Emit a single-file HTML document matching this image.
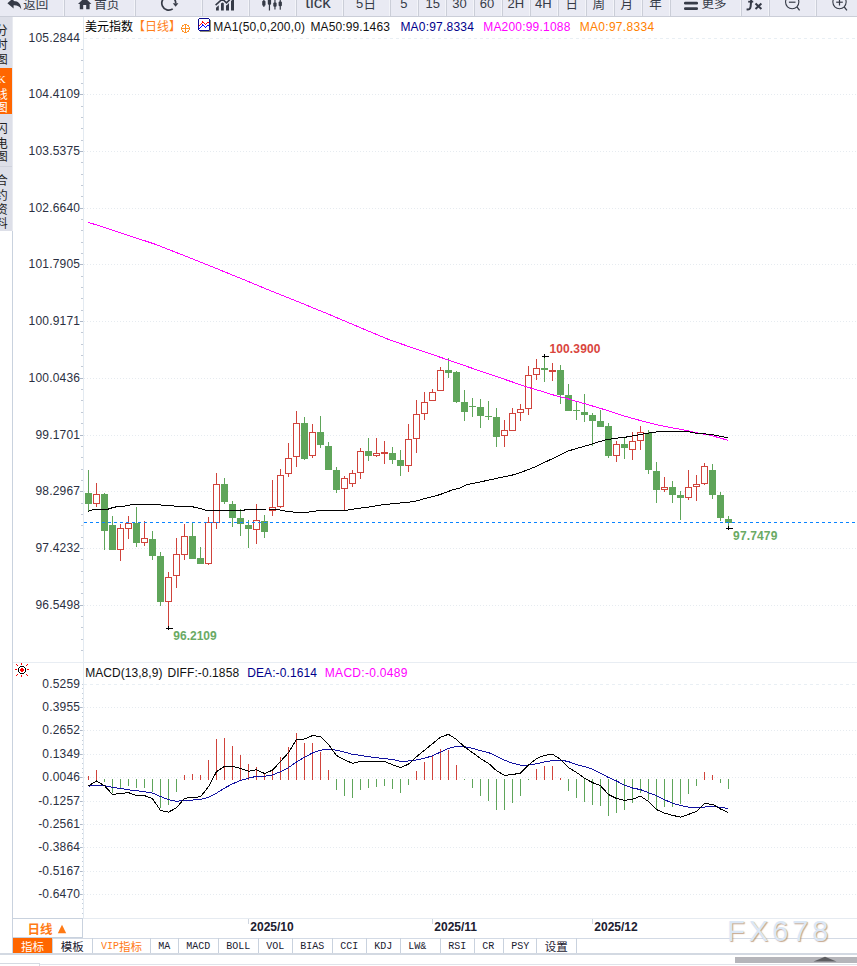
<!DOCTYPE html>
<html><head><meta charset="utf-8"><title>美元指数 日线</title>
<style>
html,body{margin:0;padding:0;background:#fff}
body{width:857px;height:966px;overflow:hidden;position:relative;font-family:"Liberation Sans",sans-serif}
svg{position:absolute;left:0;top:0}
.t{position:absolute;white-space:nowrap;font-family:"Liberation Sans",sans-serif}
.c{font-family:"Liberation Sans","Noto Sans CJK SC",sans-serif}
</style></head><body>
<svg width="857" height="966" viewBox="0 0 857 966">
<g shape-rendering="crispEdges">
<rect x="0" y="0" width="857" height="16" fill="#e9eaf3"/>
<rect x="0" y="16" width="857" height="1" fill="#cbced8"/>
<rect x="64" y="0" width="1" height="16" fill="#cbced8"/>
<rect x="63" y="0" width="1" height="16" fill="#f3f4f9"/>
<rect x="135" y="0" width="1" height="16" fill="#cbced8"/>
<rect x="134" y="0" width="1" height="16" fill="#f3f4f9"/>
<rect x="202" y="0" width="1" height="16" fill="#cbced8"/>
<rect x="201" y="0" width="1" height="16" fill="#f3f4f9"/>
<rect x="249" y="0" width="1" height="16" fill="#cbced8"/>
<rect x="248" y="0" width="1" height="16" fill="#f3f4f9"/>
<rect x="296" y="0" width="1" height="16" fill="#cbced8"/>
<rect x="295" y="0" width="1" height="16" fill="#f3f4f9"/>
<rect x="343" y="0" width="1" height="16" fill="#cbced8"/>
<rect x="342" y="0" width="1" height="16" fill="#f3f4f9"/>
<rect x="390" y="0" width="1" height="16" fill="#cbced8"/>
<rect x="389" y="0" width="1" height="16" fill="#f3f4f9"/>
<rect x="418" y="0" width="1" height="16" fill="#cbced8"/>
<rect x="417" y="0" width="1" height="16" fill="#f3f4f9"/>
<rect x="446" y="0" width="1" height="16" fill="#cbced8"/>
<rect x="445" y="0" width="1" height="16" fill="#f3f4f9"/>
<rect x="474" y="0" width="1" height="16" fill="#cbced8"/>
<rect x="473" y="0" width="1" height="16" fill="#f3f4f9"/>
<rect x="502" y="0" width="1" height="16" fill="#cbced8"/>
<rect x="501" y="0" width="1" height="16" fill="#f3f4f9"/>
<rect x="530" y="0" width="1" height="16" fill="#cbced8"/>
<rect x="529" y="0" width="1" height="16" fill="#f3f4f9"/>
<rect x="558" y="0" width="1" height="16" fill="#cbced8"/>
<rect x="557" y="0" width="1" height="16" fill="#f3f4f9"/>
<rect x="586" y="0" width="1" height="16" fill="#cbced8"/>
<rect x="585" y="0" width="1" height="16" fill="#f3f4f9"/>
<rect x="614" y="0" width="1" height="16" fill="#cbced8"/>
<rect x="613" y="0" width="1" height="16" fill="#f3f4f9"/>
<rect x="642" y="0" width="1" height="16" fill="#cbced8"/>
<rect x="641" y="0" width="1" height="16" fill="#f3f4f9"/>
<rect x="670" y="0" width="1" height="16" fill="#cbced8"/>
<rect x="669" y="0" width="1" height="16" fill="#f3f4f9"/>
<rect x="741" y="0" width="1" height="16" fill="#cbced8"/>
<rect x="740" y="0" width="1" height="16" fill="#f3f4f9"/>
<rect x="769" y="0" width="1" height="16" fill="#cbced8"/>
<rect x="768" y="0" width="1" height="16" fill="#f3f4f9"/>
<rect x="816" y="0" width="1" height="16" fill="#cbced8"/>
<rect x="815" y="0" width="1" height="16" fill="#f3f4f9"/>
<rect x="0" y="17" width="12" height="214" fill="#dddfe8"/>
<rect x="0" y="68" width="12" height="46" fill="#ff6600"/>
<rect x="0" y="166" width="12" height="1" fill="#cfd2dc"/>
<rect x="12" y="17" width="1" height="214" fill="#e8eaf0"/>
<rect x="12" y="231" width="1" height="723" fill="#c9d2de"/>
<rect x="83" y="17" width="1" height="901" fill="#e3eaf1"/>
<rect x="13" y="662" width="844" height="1" fill="#e8edf3"/>
<rect x="13" y="918" width="844" height="1" fill="#e6ebf1"/>
</g>
<g shape-rendering="crispEdges">
<line x1="84" y1="38.5" x2="857" y2="38.5" stroke="#e9eff4" stroke-width="1" stroke-dasharray="3 3"/>
<rect x="81" y="49" width="2" height="1" fill="#c2cad6"/>
<rect x="81" y="60" width="2" height="1" fill="#c2cad6"/>
<rect x="81" y="72" width="2" height="1" fill="#c2cad6"/>
<rect x="81" y="83" width="2" height="1" fill="#c2cad6"/>
<line x1="84" y1="94.5" x2="857" y2="94.5" stroke="#e6ebf0" stroke-width="1" stroke-dasharray="1 2"/>
<rect x="80" y="94" width="3" height="1" fill="#aeb8c8"/>
<rect x="81" y="106" width="2" height="1" fill="#c2cad6"/>
<rect x="81" y="117" width="2" height="1" fill="#c2cad6"/>
<rect x="81" y="128" width="2" height="1" fill="#c2cad6"/>
<rect x="81" y="140" width="2" height="1" fill="#c2cad6"/>
<line x1="84" y1="151.5" x2="857" y2="151.5" stroke="#e6ebf0" stroke-width="1" stroke-dasharray="1 2"/>
<rect x="80" y="151" width="3" height="1" fill="#aeb8c8"/>
<rect x="81" y="162" width="2" height="1" fill="#c2cad6"/>
<rect x="81" y="174" width="2" height="1" fill="#c2cad6"/>
<rect x="81" y="185" width="2" height="1" fill="#c2cad6"/>
<rect x="81" y="196" width="2" height="1" fill="#c2cad6"/>
<line x1="84" y1="208.5" x2="857" y2="208.5" stroke="#e6ebf0" stroke-width="1" stroke-dasharray="1 2"/>
<rect x="80" y="208" width="3" height="1" fill="#aeb8c8"/>
<rect x="81" y="219" width="2" height="1" fill="#c2cad6"/>
<rect x="81" y="230" width="2" height="1" fill="#c2cad6"/>
<rect x="81" y="242" width="2" height="1" fill="#c2cad6"/>
<rect x="81" y="253" width="2" height="1" fill="#c2cad6"/>
<line x1="84" y1="264.5" x2="857" y2="264.5" stroke="#e6ebf0" stroke-width="1" stroke-dasharray="1 2"/>
<rect x="80" y="264" width="3" height="1" fill="#aeb8c8"/>
<rect x="81" y="276" width="2" height="1" fill="#c2cad6"/>
<rect x="81" y="287" width="2" height="1" fill="#c2cad6"/>
<rect x="81" y="298" width="2" height="1" fill="#c2cad6"/>
<rect x="81" y="310" width="2" height="1" fill="#c2cad6"/>
<line x1="84" y1="321.5" x2="857" y2="321.5" stroke="#e6ebf0" stroke-width="1" stroke-dasharray="1 2"/>
<rect x="80" y="321" width="3" height="1" fill="#aeb8c8"/>
<rect x="81" y="332" width="2" height="1" fill="#c2cad6"/>
<rect x="81" y="344" width="2" height="1" fill="#c2cad6"/>
<rect x="81" y="355" width="2" height="1" fill="#c2cad6"/>
<rect x="81" y="366" width="2" height="1" fill="#c2cad6"/>
<line x1="84" y1="378.5" x2="857" y2="378.5" stroke="#e6ebf0" stroke-width="1" stroke-dasharray="1 2"/>
<rect x="80" y="378" width="3" height="1" fill="#aeb8c8"/>
<rect x="81" y="389" width="2" height="1" fill="#c2cad6"/>
<rect x="81" y="400" width="2" height="1" fill="#c2cad6"/>
<rect x="81" y="412" width="2" height="1" fill="#c2cad6"/>
<rect x="81" y="423" width="2" height="1" fill="#c2cad6"/>
<line x1="84" y1="435.5" x2="857" y2="435.5" stroke="#e6ebf0" stroke-width="1" stroke-dasharray="1 2"/>
<rect x="80" y="435" width="3" height="1" fill="#aeb8c8"/>
<rect x="81" y="446" width="2" height="1" fill="#c2cad6"/>
<rect x="81" y="457" width="2" height="1" fill="#c2cad6"/>
<rect x="81" y="469" width="2" height="1" fill="#c2cad6"/>
<rect x="81" y="480" width="2" height="1" fill="#c2cad6"/>
<line x1="84" y1="491.5" x2="857" y2="491.5" stroke="#e6ebf0" stroke-width="1" stroke-dasharray="1 2"/>
<rect x="80" y="491" width="3" height="1" fill="#aeb8c8"/>
<rect x="81" y="503" width="2" height="1" fill="#c2cad6"/>
<rect x="81" y="514" width="2" height="1" fill="#c2cad6"/>
<rect x="81" y="525" width="2" height="1" fill="#c2cad6"/>
<rect x="81" y="537" width="2" height="1" fill="#c2cad6"/>
<line x1="84" y1="548.5" x2="857" y2="548.5" stroke="#e6ebf0" stroke-width="1" stroke-dasharray="1 2"/>
<rect x="80" y="548" width="3" height="1" fill="#aeb8c8"/>
<rect x="81" y="559" width="2" height="1" fill="#c2cad6"/>
<rect x="81" y="571" width="2" height="1" fill="#c2cad6"/>
<rect x="81" y="582" width="2" height="1" fill="#c2cad6"/>
<rect x="81" y="593" width="2" height="1" fill="#c2cad6"/>
<line x1="84" y1="605.5" x2="857" y2="605.5" stroke="#e6ebf0" stroke-width="1" stroke-dasharray="1 2"/>
<rect x="80" y="605" width="3" height="1" fill="#aeb8c8"/>
<rect x="81" y="616" width="2" height="1" fill="#c2cad6"/>
<rect x="81" y="627" width="2" height="1" fill="#c2cad6"/>
<rect x="81" y="639" width="2" height="1" fill="#c2cad6"/>
<rect x="81" y="650" width="2" height="1" fill="#c2cad6"/>
<line x1="84" y1="684.5" x2="857" y2="684.5" stroke="#e9eff4" stroke-width="1" stroke-dasharray="3 3"/>
<line x1="84" y1="707.5" x2="857" y2="707.5" stroke="#e6ebf0" stroke-width="1" stroke-dasharray="1 2"/>
<rect x="80" y="707" width="3" height="1" fill="#aeb8c8"/>
<line x1="84" y1="730.5" x2="857" y2="730.5" stroke="#e6ebf0" stroke-width="1" stroke-dasharray="1 2"/>
<rect x="80" y="730" width="3" height="1" fill="#aeb8c8"/>
<line x1="84" y1="754.5" x2="857" y2="754.5" stroke="#e6ebf0" stroke-width="1" stroke-dasharray="1 2"/>
<rect x="80" y="754" width="3" height="1" fill="#aeb8c8"/>
<line x1="84" y1="777.5" x2="857" y2="777.5" stroke="#e6ebf0" stroke-width="1" stroke-dasharray="1 2"/>
<rect x="80" y="777" width="3" height="1" fill="#aeb8c8"/>
<line x1="84" y1="801.5" x2="857" y2="801.5" stroke="#e6ebf0" stroke-width="1" stroke-dasharray="1 2"/>
<rect x="80" y="801" width="3" height="1" fill="#aeb8c8"/>
<line x1="84" y1="824.5" x2="857" y2="824.5" stroke="#e6ebf0" stroke-width="1" stroke-dasharray="1 2"/>
<rect x="80" y="824" width="3" height="1" fill="#aeb8c8"/>
<line x1="84" y1="847.5" x2="857" y2="847.5" stroke="#e6ebf0" stroke-width="1" stroke-dasharray="1 2"/>
<rect x="80" y="847" width="3" height="1" fill="#aeb8c8"/>
<line x1="84" y1="871.5" x2="857" y2="871.5" stroke="#e6ebf0" stroke-width="1" stroke-dasharray="1 2"/>
<rect x="80" y="871" width="3" height="1" fill="#aeb8c8"/>
<line x1="84" y1="894.5" x2="857" y2="894.5" stroke="#e6ebf0" stroke-width="1" stroke-dasharray="1 2"/>
<rect x="80" y="894" width="3" height="1" fill="#aeb8c8"/>
<rect x="82" y="684" width="1" height="1" fill="#c3ccd8"/>
<rect x="82" y="688" width="1" height="1" fill="#c3ccd8"/>
<rect x="82" y="693" width="1" height="1" fill="#c3ccd8"/>
<rect x="82" y="698" width="1" height="1" fill="#c3ccd8"/>
<rect x="82" y="702" width="1" height="1" fill="#c3ccd8"/>
<rect x="82" y="707" width="1" height="1" fill="#c3ccd8"/>
<rect x="82" y="712" width="1" height="1" fill="#c3ccd8"/>
<rect x="82" y="716" width="1" height="1" fill="#c3ccd8"/>
<rect x="82" y="721" width="1" height="1" fill="#c3ccd8"/>
<rect x="82" y="726" width="1" height="1" fill="#c3ccd8"/>
<rect x="82" y="730" width="1" height="1" fill="#c3ccd8"/>
<rect x="82" y="735" width="1" height="1" fill="#c3ccd8"/>
<rect x="82" y="740" width="1" height="1" fill="#c3ccd8"/>
<rect x="82" y="744" width="1" height="1" fill="#c3ccd8"/>
<rect x="82" y="749" width="1" height="1" fill="#c3ccd8"/>
<rect x="82" y="754" width="1" height="1" fill="#c3ccd8"/>
<rect x="82" y="758" width="1" height="1" fill="#c3ccd8"/>
<rect x="82" y="763" width="1" height="1" fill="#c3ccd8"/>
<rect x="82" y="768" width="1" height="1" fill="#c3ccd8"/>
<rect x="82" y="772" width="1" height="1" fill="#c3ccd8"/>
<rect x="82" y="777" width="1" height="1" fill="#c3ccd8"/>
<rect x="82" y="782" width="1" height="1" fill="#c3ccd8"/>
<rect x="82" y="786" width="1" height="1" fill="#c3ccd8"/>
<rect x="82" y="791" width="1" height="1" fill="#c3ccd8"/>
<rect x="82" y="796" width="1" height="1" fill="#c3ccd8"/>
<rect x="82" y="801" width="1" height="1" fill="#c3ccd8"/>
<rect x="82" y="805" width="1" height="1" fill="#c3ccd8"/>
<rect x="82" y="810" width="1" height="1" fill="#c3ccd8"/>
<rect x="82" y="815" width="1" height="1" fill="#c3ccd8"/>
<rect x="82" y="819" width="1" height="1" fill="#c3ccd8"/>
<rect x="82" y="824" width="1" height="1" fill="#c3ccd8"/>
<rect x="82" y="829" width="1" height="1" fill="#c3ccd8"/>
<rect x="82" y="833" width="1" height="1" fill="#c3ccd8"/>
<rect x="82" y="838" width="1" height="1" fill="#c3ccd8"/>
<rect x="82" y="843" width="1" height="1" fill="#c3ccd8"/>
<rect x="82" y="847" width="1" height="1" fill="#c3ccd8"/>
<rect x="82" y="852" width="1" height="1" fill="#c3ccd8"/>
<rect x="82" y="857" width="1" height="1" fill="#c3ccd8"/>
<rect x="82" y="861" width="1" height="1" fill="#c3ccd8"/>
<rect x="82" y="866" width="1" height="1" fill="#c3ccd8"/>
<rect x="82" y="871" width="1" height="1" fill="#c3ccd8"/>
<rect x="82" y="875" width="1" height="1" fill="#c3ccd8"/>
<rect x="82" y="880" width="1" height="1" fill="#c3ccd8"/>
<rect x="82" y="885" width="1" height="1" fill="#c3ccd8"/>
<rect x="82" y="889" width="1" height="1" fill="#c3ccd8"/>
<rect x="82" y="894" width="1" height="1" fill="#c3ccd8"/>
<rect x="82" y="899" width="1" height="1" fill="#c3ccd8"/>
<rect x="82" y="903" width="1" height="1" fill="#c3ccd8"/>
<rect x="82" y="908" width="1" height="1" fill="#c3ccd8"/>
<rect x="82" y="913" width="1" height="1" fill="#c3ccd8"/>
</g>
<g shape-rendering="crispEdges">
<rect x="88" y="470" width="1" height="42" fill="#5fa55a"/>
<rect x="85" y="493" width="7" height="11" fill="#5fa55a"/>
<rect x="96" y="483" width="1" height="11" fill="#d0433b"/>
<rect x="96" y="504" width="1" height="3" fill="#d0433b"/>
<rect x="93.5" y="494.5" width="6" height="9" fill="#fff" stroke="#d0433b" stroke-width="1"/>
<rect x="104" y="493" width="1" height="57" fill="#5fa55a"/>
<rect x="101" y="494" width="7" height="37" fill="#5fa55a"/>
<rect x="112" y="516" width="1" height="34" fill="#5fa55a"/>
<rect x="109" y="525" width="7" height="25" fill="#5fa55a"/>
<rect x="120" y="524" width="1" height="4" fill="#d0433b"/>
<rect x="120" y="550" width="1" height="11" fill="#d0433b"/>
<rect x="117.5" y="528.5" width="6" height="21" fill="#fff" stroke="#d0433b" stroke-width="1"/>
<rect x="128" y="516" width="1" height="7" fill="#d0433b"/>
<rect x="128" y="529" width="1" height="10" fill="#d0433b"/>
<rect x="125.5" y="523.5" width="6" height="5" fill="#fff" stroke="#d0433b" stroke-width="1"/>
<rect x="136" y="507" width="1" height="40" fill="#5fa55a"/>
<rect x="133" y="523" width="7" height="20" fill="#5fa55a"/>
<rect x="144" y="521" width="1" height="17" fill="#d0433b"/>
<rect x="144" y="543" width="1" height="3" fill="#d0433b"/>
<rect x="141.5" y="538.5" width="6" height="4" fill="#fff" stroke="#d0433b" stroke-width="1"/>
<rect x="152" y="531" width="1" height="29" fill="#5fa55a"/>
<rect x="149" y="539" width="7" height="17" fill="#5fa55a"/>
<rect x="160" y="552" width="1" height="54" fill="#5fa55a"/>
<rect x="157" y="556" width="7" height="46" fill="#5fa55a"/>
<rect x="168" y="572" width="1" height="5" fill="#d0433b"/>
<rect x="168" y="602" width="1" height="27" fill="#d0433b"/>
<rect x="165.5" y="577.5" width="6" height="24" fill="#fff" stroke="#d0433b" stroke-width="1"/>
<rect x="176" y="538" width="1" height="16" fill="#d0433b"/>
<rect x="176" y="576" width="1" height="12" fill="#d0433b"/>
<rect x="173.5" y="554.5" width="6" height="21" fill="#fff" stroke="#d0433b" stroke-width="1"/>
<rect x="184" y="524" width="1" height="12" fill="#d0433b"/>
<rect x="184" y="555" width="1" height="5" fill="#d0433b"/>
<rect x="181.5" y="536.5" width="6" height="18" fill="#fff" stroke="#d0433b" stroke-width="1"/>
<rect x="192" y="522" width="1" height="37" fill="#5fa55a"/>
<rect x="189" y="536" width="7" height="23" fill="#5fa55a"/>
<rect x="200" y="547" width="1" height="17" fill="#5fa55a"/>
<rect x="197" y="558" width="7" height="6" fill="#5fa55a"/>
<rect x="208" y="517" width="1" height="5" fill="#d0433b"/>
<rect x="208" y="564" width="1" height="1" fill="#d0433b"/>
<rect x="205.5" y="522.5" width="6" height="41" fill="#fff" stroke="#d0433b" stroke-width="1"/>
<rect x="216" y="473" width="1" height="11" fill="#d0433b"/>
<rect x="216" y="523" width="1" height="6" fill="#d0433b"/>
<rect x="213.5" y="484.5" width="6" height="38" fill="#fff" stroke="#d0433b" stroke-width="1"/>
<rect x="224" y="478" width="1" height="26" fill="#5fa55a"/>
<rect x="221" y="484" width="7" height="18" fill="#5fa55a"/>
<rect x="232" y="501" width="1" height="26" fill="#5fa55a"/>
<rect x="229" y="504" width="7" height="14" fill="#5fa55a"/>
<rect x="240" y="509" width="1" height="27" fill="#5fa55a"/>
<rect x="237" y="518" width="7" height="6" fill="#5fa55a"/>
<rect x="248" y="520" width="1" height="28" fill="#5fa55a"/>
<rect x="245" y="525" width="7" height="4" fill="#5fa55a"/>
<rect x="256" y="504" width="1" height="16" fill="#d0433b"/>
<rect x="256" y="530" width="1" height="14" fill="#d0433b"/>
<rect x="253.5" y="520.5" width="6" height="9" fill="#fff" stroke="#d0433b" stroke-width="1"/>
<rect x="264" y="515" width="1" height="23" fill="#5fa55a"/>
<rect x="261" y="521" width="7" height="11" fill="#5fa55a"/>
<rect x="272" y="480" width="1" height="27" fill="#d0433b"/>
<rect x="272" y="511" width="1" height="5" fill="#d0433b"/>
<rect x="269.5" y="507.5" width="6" height="3" fill="#fff" stroke="#d0433b" stroke-width="1"/>
<rect x="280" y="469" width="1" height="6" fill="#d0433b"/>
<rect x="280" y="507" width="1" height="1" fill="#d0433b"/>
<rect x="277.5" y="475.5" width="6" height="31" fill="#fff" stroke="#d0433b" stroke-width="1"/>
<rect x="288" y="443" width="1" height="15" fill="#d0433b"/>
<rect x="288" y="474" width="1" height="3" fill="#d0433b"/>
<rect x="285.5" y="458.5" width="6" height="15" fill="#fff" stroke="#d0433b" stroke-width="1"/>
<rect x="296" y="411" width="1" height="12" fill="#d0433b"/>
<rect x="296" y="457" width="1" height="10" fill="#d0433b"/>
<rect x="293.5" y="423.5" width="6" height="33" fill="#fff" stroke="#d0433b" stroke-width="1"/>
<rect x="304" y="417" width="1" height="43" fill="#5fa55a"/>
<rect x="301" y="423" width="7" height="36" fill="#5fa55a"/>
<rect x="312" y="424" width="1" height="8" fill="#d0433b"/>
<rect x="312" y="456" width="1" height="2" fill="#d0433b"/>
<rect x="309.5" y="432.5" width="6" height="23" fill="#fff" stroke="#d0433b" stroke-width="1"/>
<rect x="320" y="416" width="1" height="32" fill="#5fa55a"/>
<rect x="317" y="432" width="7" height="13" fill="#5fa55a"/>
<rect x="328" y="442" width="1" height="28" fill="#5fa55a"/>
<rect x="325" y="446" width="7" height="24" fill="#5fa55a"/>
<rect x="336" y="467" width="1" height="26" fill="#5fa55a"/>
<rect x="333" y="470" width="7" height="20" fill="#5fa55a"/>
<rect x="344" y="476" width="1" height="2" fill="#d0433b"/>
<rect x="344" y="489" width="1" height="21" fill="#d0433b"/>
<rect x="341.5" y="478.5" width="6" height="10" fill="#fff" stroke="#d0433b" stroke-width="1"/>
<rect x="352" y="470" width="1" height="3" fill="#d0433b"/>
<rect x="352" y="484" width="1" height="3" fill="#d0433b"/>
<rect x="349.5" y="473.5" width="6" height="10" fill="#fff" stroke="#d0433b" stroke-width="1"/>
<rect x="360" y="448" width="1" height="3" fill="#d0433b"/>
<rect x="360" y="473" width="1" height="6" fill="#d0433b"/>
<rect x="357.5" y="451.5" width="6" height="21" fill="#fff" stroke="#d0433b" stroke-width="1"/>
<rect x="368" y="438" width="1" height="23" fill="#5fa55a"/>
<rect x="365" y="451" width="7" height="5" fill="#5fa55a"/>
<rect x="376" y="438" width="1" height="15" fill="#d0433b"/>
<rect x="376" y="456" width="1" height="1" fill="#d0433b"/>
<rect x="373.5" y="453.5" width="6" height="2" fill="#fff" stroke="#d0433b" stroke-width="1"/>
<rect x="384" y="441" width="1" height="11" fill="#d0433b"/>
<rect x="384" y="454" width="1" height="10" fill="#d0433b"/>
<rect x="381" y="452" width="7" height="2" fill="#d0433b"/>
<rect x="392" y="447" width="1" height="17" fill="#5fa55a"/>
<rect x="389" y="453" width="7" height="7" fill="#5fa55a"/>
<rect x="400" y="450" width="1" height="26" fill="#5fa55a"/>
<rect x="397" y="460" width="7" height="6" fill="#5fa55a"/>
<rect x="408" y="424" width="1" height="15" fill="#d0433b"/>
<rect x="408" y="466" width="1" height="6" fill="#d0433b"/>
<rect x="405.5" y="439.5" width="6" height="26" fill="#fff" stroke="#d0433b" stroke-width="1"/>
<rect x="416" y="400" width="1" height="14" fill="#d0433b"/>
<rect x="416" y="439" width="1" height="14" fill="#d0433b"/>
<rect x="413.5" y="414.5" width="6" height="24" fill="#fff" stroke="#d0433b" stroke-width="1"/>
<rect x="424" y="392" width="1" height="10" fill="#d0433b"/>
<rect x="424" y="414" width="1" height="6" fill="#d0433b"/>
<rect x="421.5" y="402.5" width="6" height="11" fill="#fff" stroke="#d0433b" stroke-width="1"/>
<rect x="432" y="389" width="1" height="3" fill="#d0433b"/>
<rect x="429.5" y="392.5" width="6" height="8" fill="#fff" stroke="#d0433b" stroke-width="1"/>
<rect x="440" y="367" width="1" height="3" fill="#d0433b"/>
<rect x="437.5" y="370.5" width="6" height="20" fill="#fff" stroke="#d0433b" stroke-width="1"/>
<rect x="448" y="358" width="1" height="20" fill="#5fa55a"/>
<rect x="445" y="370" width="7" height="3" fill="#5fa55a"/>
<rect x="456" y="371" width="1" height="32" fill="#5fa55a"/>
<rect x="453" y="372" width="7" height="30" fill="#5fa55a"/>
<rect x="464" y="390" width="1" height="31" fill="#5fa55a"/>
<rect x="461" y="402" width="7" height="10" fill="#5fa55a"/>
<rect x="472" y="398" width="1" height="19" fill="#5fa55a"/>
<rect x="469" y="406" width="7" height="1" fill="#5fa55a"/>
<rect x="480" y="399" width="1" height="29" fill="#5fa55a"/>
<rect x="477" y="407" width="7" height="9" fill="#5fa55a"/>
<rect x="488" y="401" width="1" height="19" fill="#5fa55a"/>
<rect x="485" y="416" width="7" height="1" fill="#5fa55a"/>
<rect x="496" y="408" width="1" height="39" fill="#5fa55a"/>
<rect x="493" y="417" width="7" height="20" fill="#5fa55a"/>
<rect x="504" y="420" width="1" height="10" fill="#d0433b"/>
<rect x="504" y="436" width="1" height="11" fill="#d0433b"/>
<rect x="501.5" y="430.5" width="6" height="5" fill="#fff" stroke="#d0433b" stroke-width="1"/>
<rect x="512" y="408" width="1" height="5" fill="#d0433b"/>
<rect x="509.5" y="413.5" width="6" height="17" fill="#fff" stroke="#d0433b" stroke-width="1"/>
<rect x="520" y="404" width="1" height="5" fill="#d0433b"/>
<rect x="520" y="413" width="1" height="8" fill="#d0433b"/>
<rect x="517.5" y="409.5" width="6" height="3" fill="#fff" stroke="#d0433b" stroke-width="1"/>
<rect x="528" y="366" width="1" height="9" fill="#d0433b"/>
<rect x="528" y="409" width="1" height="6" fill="#d0433b"/>
<rect x="525.5" y="375.5" width="6" height="33" fill="#fff" stroke="#d0433b" stroke-width="1"/>
<rect x="536" y="359" width="1" height="9" fill="#d0433b"/>
<rect x="536" y="375" width="1" height="5" fill="#d0433b"/>
<rect x="533.5" y="368.5" width="6" height="6" fill="#fff" stroke="#d0433b" stroke-width="1"/>
<rect x="544" y="357" width="1" height="25" fill="#5fa55a"/>
<rect x="541" y="368" width="7" height="2" fill="#5fa55a"/>
<rect x="552" y="363" width="1" height="7" fill="#d0433b"/>
<rect x="552" y="372" width="1" height="9" fill="#d0433b"/>
<rect x="549" y="370" width="7" height="2" fill="#d0433b"/>
<rect x="560" y="365" width="1" height="39" fill="#5fa55a"/>
<rect x="557" y="370" width="7" height="25" fill="#5fa55a"/>
<rect x="568" y="384" width="1" height="27" fill="#5fa55a"/>
<rect x="565" y="395" width="7" height="16" fill="#5fa55a"/>
<rect x="576" y="402" width="1" height="18" fill="#5fa55a"/>
<rect x="573" y="410" width="7" height="1" fill="#5fa55a"/>
<rect x="584" y="394" width="1" height="28" fill="#5fa55a"/>
<rect x="581" y="412" width="7" height="3" fill="#5fa55a"/>
<rect x="592" y="413" width="1" height="33" fill="#5fa55a"/>
<rect x="589" y="415" width="7" height="6" fill="#5fa55a"/>
<rect x="600" y="410" width="1" height="17" fill="#5fa55a"/>
<rect x="597" y="421" width="7" height="6" fill="#5fa55a"/>
<rect x="608" y="423" width="1" height="35" fill="#5fa55a"/>
<rect x="605" y="426" width="7" height="30" fill="#5fa55a"/>
<rect x="616" y="441" width="1" height="3" fill="#d0433b"/>
<rect x="616" y="456" width="1" height="6" fill="#d0433b"/>
<rect x="613.5" y="444.5" width="6" height="11" fill="#fff" stroke="#d0433b" stroke-width="1"/>
<rect x="624" y="438" width="1" height="21" fill="#5fa55a"/>
<rect x="621" y="444" width="7" height="4" fill="#5fa55a"/>
<rect x="632" y="432" width="1" height="9" fill="#d0433b"/>
<rect x="632" y="450" width="1" height="10" fill="#d0433b"/>
<rect x="629.5" y="441.5" width="6" height="8" fill="#fff" stroke="#d0433b" stroke-width="1"/>
<rect x="640" y="426" width="1" height="6" fill="#d0433b"/>
<rect x="640" y="441" width="1" height="9" fill="#d0433b"/>
<rect x="637.5" y="432.5" width="6" height="8" fill="#fff" stroke="#d0433b" stroke-width="1"/>
<rect x="648" y="430" width="1" height="44" fill="#5fa55a"/>
<rect x="645" y="433" width="7" height="37" fill="#5fa55a"/>
<rect x="656" y="462" width="1" height="41" fill="#5fa55a"/>
<rect x="653" y="471" width="7" height="19" fill="#5fa55a"/>
<rect x="664" y="477" width="1" height="10" fill="#d0433b"/>
<rect x="664" y="490" width="1" height="2" fill="#d0433b"/>
<rect x="661.5" y="487.5" width="6" height="2" fill="#fff" stroke="#d0433b" stroke-width="1"/>
<rect x="672" y="481" width="1" height="22" fill="#5fa55a"/>
<rect x="669" y="487" width="7" height="8" fill="#5fa55a"/>
<rect x="680" y="491" width="1" height="29" fill="#5fa55a"/>
<rect x="677" y="495" width="7" height="3" fill="#5fa55a"/>
<rect x="688" y="470" width="1" height="17" fill="#d0433b"/>
<rect x="688" y="498" width="1" height="2" fill="#d0433b"/>
<rect x="685.5" y="487.5" width="6" height="10" fill="#fff" stroke="#d0433b" stroke-width="1"/>
<rect x="696" y="475" width="1" height="9" fill="#d0433b"/>
<rect x="696" y="487" width="1" height="14" fill="#d0433b"/>
<rect x="693.5" y="484.5" width="6" height="2" fill="#fff" stroke="#d0433b" stroke-width="1"/>
<rect x="704" y="463" width="1" height="3" fill="#d0433b"/>
<rect x="704" y="484" width="1" height="1" fill="#d0433b"/>
<rect x="701.5" y="466.5" width="6" height="17" fill="#fff" stroke="#d0433b" stroke-width="1"/>
<rect x="712" y="464" width="1" height="35" fill="#5fa55a"/>
<rect x="709" y="470" width="7" height="25" fill="#5fa55a"/>
<rect x="720" y="492" width="1" height="29" fill="#5fa55a"/>
<rect x="717" y="495" width="7" height="23" fill="#5fa55a"/>
<rect x="728" y="516" width="1" height="12" fill="#5fa55a"/>
<rect x="725" y="519" width="7" height="4" fill="#5fa55a"/>
</g>
<g shape-rendering="crispEdges">
<line x1="84" y1="522.5" x2="857" y2="522.5" stroke="#0a84ff" stroke-width="1" stroke-dasharray="3 3"/>
</g>
<path d="M88.0 222.3 L100.0 226.0 L123.0 233.6 L154.5 244.0 L175.0 252.0 L198.6 261.3 L225.0 272.0 L249.0 281.8 L270.0 290.5 L293.1 299.7 L330.0 314.8 L360.0 327.5 L389.8 340.0 L425.0 352.0 L452.0 361.3 L470.0 367.5 L489.2 374.1 L508.0 380.5 L526.5 386.8 L544.0 392.0 L552.0 394.6 L568.2 398.9 L584.0 403.5 L599.9 408.2 L612.0 412.0 L624.0 416.0 L636.0 419.3 L644.0 421.6 L660.0 425.5 L684.4 430.1 L697.0 432.8 L710.5 435.3 L720.0 438.0 L728.0 440.3" fill="none" stroke="#ff00ff" stroke-width="1" stroke-linejoin="round" shape-rendering="crispEdges"/>
<path d="M88.0 511.5 L90.0 510.5 L94.0 509.5 L107.0 509.5 L110.0 508.5 L113.0 507.5 L118.0 506.5 L124.0 506.3 L128.0 505.3 L133.0 504.4 L145.0 504.3 L156.6 504.5 L165.0 505.5 L176.0 506.1 L189.0 506.1 L196.0 507.5 L200.0 508.5 L205.8 510.2 L225.0 510.2 L244.0 510.2 L247.0 509.2 L268.0 509.0 L276.0 509.2 L285.0 511.0 L294.0 512.2 L308.0 512.2 L316.0 511.0 L324.0 510.4 L346.0 510.4 L357.0 508.5 L368.0 507.2 L382.3 504.8 L400.0 503.0 L414.0 501.6 L427.0 498.0 L440.0 494.6 L452.0 490.1 L460.0 488.0 L467.0 484.6 L480.0 482.0 L496.0 478.5 L511.6 475.3 L522.0 472.0 L534.0 467.4 L544.0 462.6 L552.0 458.9 L560.0 455.0 L568.2 451.0 L578.0 448.0 L588.7 445.1 L598.0 442.0 L607.3 439.5 L616.0 438.2 L626.0 437.1 L636.0 435.4 L644.0 433.9 L652.0 432.5 L660.2 431.4 L671.0 431.0 L682.6 431.0 L690.0 432.0 L695.6 433.2 L703.0 433.8 L710.5 434.3 L719.0 436.0 L728.0 437.9" fill="none" stroke="#000" stroke-width="1" stroke-linejoin="round" shape-rendering="crispEdges"/>
<g shape-rendering="crispEdges">
<rect x="166" y="628" width="7" height="1" fill="#000"/>
<rect x="168" y="626" width="1" height="4" fill="#000"/>
<rect x="542" y="356" width="7" height="1" fill="#000"/>
<rect x="544" y="354" width="1" height="4" fill="#000"/>
<rect x="726" y="528" width="7" height="1" fill="#000"/>
<rect x="728" y="526" width="1" height="4" fill="#000"/>
</g>
<g shape-rendering="crispEdges">
<rect x="88" y="776" width="1" height="4" fill="#d0433b"/>
<rect x="96" y="770" width="1" height="10" fill="#d0433b"/>
<rect x="104" y="779" width="1" height="3" fill="#5fa55a"/>
<rect x="112" y="779" width="1" height="14" fill="#5fa55a"/>
<rect x="120" y="779" width="1" height="10" fill="#5fa55a"/>
<rect x="128" y="779" width="1" height="7" fill="#5fa55a"/>
<rect x="136" y="779" width="1" height="9" fill="#5fa55a"/>
<rect x="144" y="779" width="1" height="9" fill="#5fa55a"/>
<rect x="152" y="779" width="1" height="13" fill="#5fa55a"/>
<rect x="160" y="779" width="1" height="29" fill="#5fa55a"/>
<rect x="168" y="779" width="1" height="26" fill="#5fa55a"/>
<rect x="176" y="779" width="1" height="13" fill="#5fa55a"/>
<rect x="184" y="775" width="1" height="5" fill="#d0433b"/>
<rect x="192" y="774" width="1" height="6" fill="#d0433b"/>
<rect x="200" y="775" width="1" height="5" fill="#d0433b"/>
<rect x="208" y="760" width="1" height="20" fill="#d0433b"/>
<rect x="216" y="739" width="1" height="41" fill="#d0433b"/>
<rect x="224" y="738" width="1" height="42" fill="#d0433b"/>
<rect x="232" y="746" width="1" height="34" fill="#d0433b"/>
<rect x="240" y="755" width="1" height="25" fill="#d0433b"/>
<rect x="248" y="764" width="1" height="16" fill="#d0433b"/>
<rect x="256" y="767" width="1" height="13" fill="#d0433b"/>
<rect x="264" y="774" width="1" height="6" fill="#d0433b"/>
<rect x="272" y="770" width="1" height="10" fill="#d0433b"/>
<rect x="280" y="757" width="1" height="23" fill="#d0433b"/>
<rect x="288" y="747" width="1" height="33" fill="#d0433b"/>
<rect x="296" y="733" width="1" height="47" fill="#d0433b"/>
<rect x="304" y="743" width="1" height="37" fill="#d0433b"/>
<rect x="312" y="743" width="1" height="37" fill="#d0433b"/>
<rect x="320" y="752" width="1" height="28" fill="#d0433b"/>
<rect x="328" y="770" width="1" height="10" fill="#d0433b"/>
<rect x="336" y="779" width="1" height="11" fill="#5fa55a"/>
<rect x="344" y="779" width="1" height="17" fill="#5fa55a"/>
<rect x="352" y="779" width="1" height="19" fill="#5fa55a"/>
<rect x="360" y="779" width="1" height="11" fill="#5fa55a"/>
<rect x="368" y="779" width="1" height="9" fill="#5fa55a"/>
<rect x="376" y="779" width="1" height="8" fill="#5fa55a"/>
<rect x="384" y="779" width="1" height="7" fill="#5fa55a"/>
<rect x="392" y="779" width="1" height="10" fill="#5fa55a"/>
<rect x="400" y="779" width="1" height="14" fill="#5fa55a"/>
<rect x="408" y="779" width="1" height="6" fill="#5fa55a"/>
<rect x="416" y="771" width="1" height="9" fill="#d0433b"/>
<rect x="424" y="762" width="1" height="18" fill="#d0433b"/>
<rect x="432" y="756" width="1" height="24" fill="#d0433b"/>
<rect x="440" y="749" width="1" height="31" fill="#d0433b"/>
<rect x="448" y="750" width="1" height="30" fill="#d0433b"/>
<rect x="456" y="765" width="1" height="15" fill="#d0433b"/>
<rect x="464" y="779" width="1" height="1" fill="#5fa55a"/>
<rect x="472" y="779" width="1" height="9" fill="#5fa55a"/>
<rect x="480" y="779" width="1" height="17" fill="#5fa55a"/>
<rect x="488" y="779" width="1" height="22" fill="#5fa55a"/>
<rect x="496" y="779" width="1" height="31" fill="#5fa55a"/>
<rect x="504" y="779" width="1" height="31" fill="#5fa55a"/>
<rect x="512" y="779" width="1" height="24" fill="#5fa55a"/>
<rect x="520" y="779" width="1" height="17" fill="#5fa55a"/>
<rect x="528" y="779" width="1" height="1" fill="#5fa55a"/>
<rect x="536" y="769" width="1" height="11" fill="#d0433b"/>
<rect x="544" y="766" width="1" height="14" fill="#d0433b"/>
<rect x="552" y="766" width="1" height="14" fill="#d0433b"/>
<rect x="560" y="778" width="1" height="2" fill="#d0433b"/>
<rect x="568" y="779" width="1" height="12" fill="#5fa55a"/>
<rect x="576" y="779" width="1" height="19" fill="#5fa55a"/>
<rect x="584" y="779" width="1" height="23" fill="#5fa55a"/>
<rect x="592" y="779" width="1" height="26" fill="#5fa55a"/>
<rect x="600" y="779" width="1" height="27" fill="#5fa55a"/>
<rect x="608" y="779" width="1" height="37" fill="#5fa55a"/>
<rect x="616" y="779" width="1" height="34" fill="#5fa55a"/>
<rect x="624" y="779" width="1" height="31" fill="#5fa55a"/>
<rect x="632" y="779" width="1" height="24" fill="#5fa55a"/>
<rect x="640" y="779" width="1" height="14" fill="#5fa55a"/>
<rect x="648" y="779" width="1" height="21" fill="#5fa55a"/>
<rect x="656" y="779" width="1" height="31" fill="#5fa55a"/>
<rect x="664" y="779" width="1" height="28" fill="#5fa55a"/>
<rect x="672" y="779" width="1" height="28" fill="#5fa55a"/>
<rect x="680" y="779" width="1" height="25" fill="#5fa55a"/>
<rect x="688" y="779" width="1" height="15" fill="#5fa55a"/>
<rect x="696" y="779" width="1" height="7" fill="#5fa55a"/>
<rect x="704" y="772" width="1" height="8" fill="#d0433b"/>
<rect x="712" y="775" width="1" height="5" fill="#d0433b"/>
<rect x="720" y="779" width="1" height="4" fill="#5fa55a"/>
<rect x="728" y="779" width="1" height="10" fill="#5fa55a"/>
</g>
<path d="M88.5 786.2 L96.5 785.1 L104.5 785.7 L112.5 787.2 L120.5 788.5 L128.5 789.8 L136.5 790.7 L144.5 791.7 L152.5 793.1 L160.5 796.5 L168.5 799.7 L176.5 801.2 L184.5 800.6 L192.5 800.1 L200.5 799.3 L208.5 797.4 L216.5 793.1 L224.5 788.1 L232.5 783.8 L240.5 780.5 L248.5 778.2 L256.5 776.3 L264.5 776.3 L272.5 775.0 L280.5 771.7 L288.5 767.6 L296.5 762.0 L304.5 757.3 L312.5 753.0 L320.5 750.2 L328.5 749.3 L336.5 750.2 L344.5 752.1 L352.5 754.3 L360.5 755.4 L368.5 756.7 L376.5 757.7 L384.5 758.6 L392.5 759.5 L400.5 761.4 L408.5 761.0 L416.5 759.9 L424.5 758.2 L432.5 755.8 L440.5 752.1 L448.5 748.3 L456.5 746.5 L464.5 746.8 L472.5 748.3 L480.5 750.6 L488.5 752.6 L496.5 756.2 L504.5 760.1 L512.5 763.3 L520.5 765.1 L528.5 765.1 L536.5 763.8 L544.5 761.9 L552.5 760.5 L560.5 760.0 L568.5 761.6 L576.5 764.7 L584.5 766.5 L592.5 769.3 L600.5 773.3 L608.5 777.5 L616.5 781.0 L624.5 785.2 L632.5 788.0 L640.5 789.6 L648.5 792.7 L656.5 795.7 L664.5 799.7 L672.5 803.2 L680.5 805.5 L688.5 807.1 L696.5 807.8 L704.5 807.1 L712.5 806.2 L720.5 807.4 L728.5 808.5" fill="none" stroke="#1212a0" stroke-width="1" stroke-linejoin="round" shape-rendering="crispEdges"/>
<path d="M88.5 785.7 L96.5 781.0 L104.5 785.7 L112.5 794.5 L120.5 793.5 L128.5 792.6 L136.5 795.6 L144.5 795.6 L152.5 798.7 L160.5 810.5 L168.5 812.2 L176.5 807.7 L184.5 798.4 L192.5 797.3 L200.5 796.9 L208.5 786.6 L216.5 771.7 L224.5 766.4 L232.5 766.4 L240.5 768.5 L248.5 771.3 L256.5 769.8 L264.5 773.5 L272.5 770.2 L280.5 761.4 L288.5 752.6 L296.5 739.4 L304.5 739.0 L312.5 735.6 L320.5 736.6 L328.5 744.6 L336.5 755.4 L344.5 759.9 L352.5 763.3 L360.5 761.4 L368.5 761.4 L376.5 761.4 L384.5 761.4 L392.5 764.8 L400.5 767.6 L408.5 764.2 L416.5 756.7 L424.5 750.2 L432.5 743.7 L440.5 737.1 L448.5 734.3 L456.5 739.4 L464.5 747.0 L472.5 752.6 L480.5 758.6 L488.5 763.3 L496.5 770.7 L504.5 775.4 L512.5 774.5 L520.5 773.2 L528.5 765.1 L536.5 758.6 L544.5 755.3 L552.5 754.2 L560.5 759.3 L568.5 767.7 L576.5 772.4 L584.5 778.2 L592.5 782.6 L600.5 785.7 L608.5 794.5 L616.5 798.5 L624.5 800.4 L632.5 799.2 L640.5 796.2 L648.5 801.5 L656.5 809.5 L664.5 813.2 L672.5 815.3 L680.5 817.2 L688.5 814.4 L696.5 811.3 L704.5 803.6 L712.5 804.3 L720.5 809.0 L728.5 812.5" fill="none" stroke="#000" stroke-width="1" stroke-linejoin="round" shape-rendering="crispEdges"/>
<text class="c" x="85" y="31" font-size="12" fill="#000">美元指数</text>
<text class="c" x="133" y="31" font-size="12" fill="#ff7f1a">【日线】</text>
<g shape-rendering="crispEdges">
<rect x="181" y="27" width="1" height="1" fill="#ff9830"/>
<rect x="181" y="28" width="1" height="1" fill="#ff9830"/>
<rect x="181" y="29" width="1" height="1" fill="#ff9830"/>
<rect x="182" y="25" width="1" height="1" fill="#ff9830"/>
<rect x="182" y="26" width="1" height="1" fill="#ff9830"/>
<rect x="182" y="30" width="1" height="1" fill="#ff9830"/>
<rect x="182" y="31" width="1" height="1" fill="#ff9830"/>
<rect x="183" y="25" width="1" height="1" fill="#ff9830"/>
<rect x="183" y="31" width="1" height="1" fill="#ff9830"/>
<rect x="184" y="24" width="1" height="1" fill="#ff9830"/>
<rect x="184" y="32" width="1" height="1" fill="#ff9830"/>
<rect x="185" y="24" width="1" height="1" fill="#ff9830"/>
<rect x="185" y="32" width="1" height="1" fill="#ff9830"/>
<rect x="186" y="24" width="1" height="1" fill="#ff9830"/>
<rect x="186" y="32" width="1" height="1" fill="#ff9830"/>
<rect x="187" y="25" width="1" height="1" fill="#ff9830"/>
<rect x="187" y="31" width="1" height="1" fill="#ff9830"/>
<rect x="188" y="25" width="1" height="1" fill="#ff9830"/>
<rect x="188" y="26" width="1" height="1" fill="#ff9830"/>
<rect x="188" y="30" width="1" height="1" fill="#ff9830"/>
<rect x="188" y="31" width="1" height="1" fill="#ff9830"/>
<rect x="189" y="27" width="1" height="1" fill="#ff9830"/>
<rect x="189" y="28" width="1" height="1" fill="#ff9830"/>
<rect x="189" y="29" width="1" height="1" fill="#ff9830"/>
<rect x="181" y="28" width="9" height="1" fill="#ff9020"/>
<rect x="185" y="24" width="1" height="9" fill="#ff9020"/>
</g>
<g shape-rendering="crispEdges">
<rect x="210" y="20" width="1" height="12" fill="#8c8c78"/>
<rect x="200" y="31" width="11" height="1" fill="#8c8c78"/>
<rect x="209" y="30" width="1" height="1" fill="#5a5a70"/>
<rect x="199" y="19" width="10" height="11" fill="#fff"/>
<rect x="199" y="18" width="10" height="1" fill="#0a0a8c"/>
<rect x="199" y="30" width="10" height="1" fill="#0a0a8c"/>
<rect x="198" y="19" width="1" height="11" fill="#0a0a8c"/>
<rect x="209" y="19" width="1" height="11" fill="#0a0a8c"/>
<rect x="199" y="25" width="1" height="1" fill="#ff0000"/>
<rect x="200" y="24" width="1" height="1" fill="#ff0000"/>
<rect x="201" y="23" width="1" height="1" fill="#ff0000"/>
<rect x="202" y="22" width="1" height="1" fill="#ff0000"/>
<rect x="202" y="21" width="1" height="1" fill="#ff0000"/>
<rect x="203" y="22" width="1" height="1" fill="#ff0000"/>
<rect x="204" y="23" width="1" height="1" fill="#ff0000"/>
<rect x="205" y="24" width="1" height="1" fill="#ff0000"/>
<rect x="206" y="23" width="1" height="1" fill="#ff0000"/>
<rect x="207" y="22" width="1" height="1" fill="#ff0000"/>
<rect x="208" y="22" width="1" height="1" fill="#ff0000"/>
<rect x="199" y="28" width="1" height="1" fill="#0000ff"/>
<rect x="200" y="27" width="1" height="1" fill="#0000ff"/>
<rect x="201" y="26" width="1" height="1" fill="#0000ff"/>
<rect x="202" y="25" width="1" height="1" fill="#0000ff"/>
<rect x="202" y="24" width="1" height="1" fill="#0000ff"/>
<rect x="203" y="25" width="1" height="1" fill="#0000ff"/>
<rect x="204" y="26" width="1" height="1" fill="#0000ff"/>
<rect x="205" y="27" width="1" height="1" fill="#0000ff"/>
<rect x="206" y="26" width="1" height="1" fill="#0000ff"/>
<rect x="207" y="25" width="1" height="1" fill="#0000ff"/>
<rect x="208" y="25" width="1" height="1" fill="#0000ff"/>
</g>
<rect x="248" y="919" width="1" height="5" fill="#cfd6e0"/>
<rect x="432" y="919" width="1" height="5" fill="#cfd6e0"/>
<rect x="592" y="919" width="1" height="5" fill="#cfd6e0"/>
<g shape-rendering="crispEdges">
<rect x="13" y="918" width="70" height="1" fill="#c9d2de"/>
<rect x="82" y="918" width="1" height="20" fill="#c9d2de"/>
<rect x="13" y="937" width="70" height="1" fill="#c9d2de"/>
<rect x="13" y="938" width="844" height="1" fill="#d3dae5"/>
<rect x="0" y="953" width="857" height="2" fill="#d3d9e2"/>
<rect x="13" y="938" width="39" height="15" fill="#ff6600"/>
<rect x="52" y="938" width="1" height="15" fill="#c9d2de"/>
<rect x="92" y="938" width="1" height="15" fill="#c9d2de"/>
<rect x="150" y="938" width="1" height="15" fill="#c9d2de"/>
<rect x="178" y="938" width="1" height="15" fill="#c9d2de"/>
<rect x="218" y="938" width="1" height="15" fill="#c9d2de"/>
<rect x="258" y="938" width="1" height="15" fill="#c9d2de"/>
<rect x="292" y="938" width="1" height="15" fill="#c9d2de"/>
<rect x="332" y="938" width="1" height="15" fill="#c9d2de"/>
<rect x="366" y="938" width="1" height="15" fill="#c9d2de"/>
<rect x="400" y="938" width="1" height="15" fill="#c9d2de"/>
<rect x="440" y="938" width="1" height="15" fill="#c9d2de"/>
<rect x="474" y="938" width="1" height="15" fill="#c9d2de"/>
<rect x="503" y="938" width="1" height="15" fill="#c9d2de"/>
<rect x="536" y="938" width="1" height="15" fill="#c9d2de"/>
<rect x="576" y="938" width="1" height="15" fill="#c9d2de"/>
<rect x="0" y="963" width="40" height="1" fill="#d5dae2"/>
<rect x="39" y="963" width="1" height="3" fill="#d5dae2"/>
<rect x="40" y="964" width="817" height="1" fill="#dfe3ea"/>
<rect x="735" y="957" width="122" height="6" fill="#b5b5ba"/>
</g>
<path d="M813.5 961.5L825 956.8L836.5 961.5Z" fill="#5e5e62" stroke="none" stroke-width="1"/>
<text class="c" x="27.5" y="934" font-size="12.5" font-weight="bold" fill="#ff7a14">日线</text>
<path d="M62 924.8L66.2 933.2H57.8Z" fill="#ff7a14" stroke="none" stroke-width="1"/>
<text class="c" x="21" y="950.5" font-size="11.5" fill="#fff">指标</text>
<text class="c" x="60.7" y="950.5" font-size="11.5" fill="#1a2030">模板</text>
<text class="c" x="119" y="950.5" font-size="11.5" fill="#ff7a14">指标</text>
<text class="c" x="544.7" y="950.5" font-size="11.5" fill="#1a2030">设置</text>
<g shape-rendering="crispEdges">
<rect x="20" y="666" width="4" height="1" fill="#000"/>
<rect x="19" y="667" width="1" height="1" fill="#000"/>
<rect x="24" y="667" width="1" height="1" fill="#000"/>
<rect x="18" y="668" width="1" height="4" fill="#000"/>
<rect x="25" y="668" width="1" height="4" fill="#000"/>
<rect x="19" y="672" width="1" height="1" fill="#000"/>
<rect x="24" y="672" width="1" height="1" fill="#000"/>
<rect x="20" y="673" width="4" height="1" fill="#000"/>
<rect x="21" y="668" width="2" height="1" fill="#ff0000"/>
<rect x="20" y="669" width="4" height="2" fill="#ff0000"/>
<rect x="21" y="671" width="2" height="1" fill="#ff0000"/>
<rect x="21" y="663" width="1" height="2" fill="#ff0000"/>
<rect x="21" y="675" width="1" height="2" fill="#ff0000"/>
<rect x="15" y="669" width="2" height="1" fill="#ff0000"/>
<rect x="27" y="669" width="2" height="1" fill="#ff0000"/>
<rect x="16" y="664" width="1" height="1" fill="#ff0000"/>
<rect x="17" y="665" width="1" height="1" fill="#ff0000"/>
<rect x="27" y="664" width="1" height="1" fill="#ff0000"/>
<rect x="26" y="665" width="1" height="1" fill="#ff0000"/>
<rect x="16" y="675" width="1" height="1" fill="#ff0000"/>
<rect x="17" y="674" width="1" height="1" fill="#ff0000"/>
<rect x="26" y="674" width="1" height="1" fill="#ff0000"/>
<rect x="27" y="675" width="1" height="1" fill="#ff0000"/>
</g>
<text class="c" x="-4.3" y="35" font-size="12" fill="#222">分</text>
<text class="c" x="-4.3" y="49" font-size="12" fill="#222">时</text>
<text class="c" x="-4.3" y="63.5" font-size="12" fill="#222">图</text>
<text class="c" x="-4.3" y="98.5" font-size="12" fill="#fff">线</text>
<text class="c" x="-4.3" y="112" font-size="12" fill="#fff">图</text>
<text class="c" x="-4.3" y="133" font-size="12" fill="#222">闪</text>
<text class="c" x="-4.3" y="147.5" font-size="12" fill="#222">电</text>
<text class="c" x="-4.3" y="161" font-size="12" fill="#222">图</text>
<text class="c" x="-4.3" y="185" font-size="12" fill="#222">合</text>
<text class="c" x="-4.3" y="199.5" font-size="12" fill="#222">约</text>
<text class="c" x="-4.3" y="214" font-size="12" fill="#222">资</text>
<text class="c" x="-4.3" y="228" font-size="12" fill="#222">料</text>
<text class="c" x="363.6" y="8.5" font-size="12.5" fill="#363b47">日</text>
<text class="c" x="565.6" y="8.5" font-size="12.5" fill="#363b47">日</text>
<text class="c" x="592.5" y="8.5" font-size="12.5" fill="#363b47">周</text>
<text class="c" x="620.5" y="8.5" font-size="12.5" fill="#363b47">月</text>
<text class="c" x="649.2" y="8.5" font-size="12.5" fill="#363b47">年</text>
<text class="c" x="23.3" y="8.5" font-size="12.5" fill="#363b47">返回</text>
<text class="c" x="94.3" y="8.5" font-size="12.5" fill="#363b47">首页</text>
<text class="c" x="701.5" y="8" font-size="12.5" fill="#363b47">更多</text>
<path d="M7.4 3.2L13.6 -2.2V1C18.5 1 21 4 21.2 9.2C19.6 6.2 17.4 5.2 13.6 5.3V8.6Z" fill="#363b47" stroke="none" stroke-width="1"/>
<path d="M78 4L84.7 -2.5L91.4 4H89.6V9.3H86.2V5H83.2V9.3H79.8V4Z" fill="#363b47" stroke="none" stroke-width="1"/>
<path d="M172.74 8.84A6.95 6.95 0 1 1 175.7 3.3" fill="none" stroke="#363b47" stroke-width="1.7"/>
<path d="M172.8 3.2H178.4L175.6 6.8Z" fill="#363b47" stroke="none" stroke-width="1"/>
<path d="M216 7.7L218.8 5.2V10.5H216Z M221 3.4L222.4 2.4L223.8 3.3V10.5H221Z M226 5L226.6 5.5L229 3V10.5H226Z M231 1L234 -1.6V10.5H231Z" fill="#363b47" stroke="none" stroke-width="1"/>
<path d="M215.6 5.2L222.3 -1L226.5 2.8L233.5 -4" fill="none" stroke="#363b47" stroke-width="1.6"/>
<rect x="262.2" y="0.8" width="3.3" height="5" rx="1" fill="#363b47"/>
<rect x="263.25" y="-3" width="1.2" height="9.9" fill="#363b47"/>
<rect x="267.8" y="-3" width="3.3" height="7.7" rx="1" fill="#363b47"/>
<rect x="268.85" y="-3" width="1.2" height="13.5" fill="#363b47"/>
<rect x="273.3" y="2.6" width="3.3" height="4.2" rx="1" fill="#363b47"/>
<rect x="274.35" y="-3" width="1.2" height="12.5" fill="#363b47"/>
<rect x="278.6" y="1.6" width="3.3" height="4.7" rx="1" fill="#363b47"/>
<rect x="279.65000000000003" y="-3" width="1.2" height="12.7" fill="#363b47"/>
<rect x="684" y="1.8" width="14" height="2.6" fill="#363b47" rx="1.2"/>
<rect x="684" y="7.3" width="14" height="2.6" fill="#363b47" rx="1.2"/>
<path d="M751.4 -2L750.6 6.6C750.3 9.2 748.8 9.7 746.6 9.3" fill="none" stroke="#363b47" stroke-width="2"/>
<path d="M748.2 1.7H753.2" fill="none" stroke="#363b47" stroke-width="1.8"/>
<path d="M755.5 3.6L761.4 9M761.4 3.6L755.5 9" fill="none" stroke="#363b47" stroke-width="2"/>
<circle cx="792.2" cy="2.1" r="6.65" fill="none" stroke="#363b47" stroke-width="1.1"/>
<path d="M796.9 6.8L799.6 10.3" fill="none" stroke="#363b47" stroke-width="1.3"/>
<path d="M788.9 2.2h6.6" fill="none" stroke="#363b47" stroke-width="1.2"/>
<circle cx="839.5" cy="2.1" r="6.65" fill="none" stroke="#363b47" stroke-width="1.1"/>
<path d="M844.2 6.8L846.9 10.3" fill="none" stroke="#363b47" stroke-width="1.3"/>
<path d="M836.2 2.2h6.6" fill="none" stroke="#363b47" stroke-width="1.2"/>
<path d="M839.5 -1.1v6.6" fill="none" stroke="#363b47" stroke-width="1.2"/>
</svg>
<span class="t" style="right:776.9px;top:31.94px;font-size:12px;line-height:12px;color:#2b3042;letter-spacing:0.18px;">105.2844</span>
<span class="t" style="right:776.9px;top:87.94px;font-size:12px;line-height:12px;color:#2b3042;letter-spacing:0.18px;">104.4109</span>
<span class="t" style="right:776.9px;top:144.94px;font-size:12px;line-height:12px;color:#2b3042;letter-spacing:0.18px;">103.5375</span>
<span class="t" style="right:776.9px;top:201.94px;font-size:12px;line-height:12px;color:#2b3042;letter-spacing:0.18px;">102.6640</span>
<span class="t" style="right:776.9px;top:257.94px;font-size:12px;line-height:12px;color:#2b3042;letter-spacing:0.18px;">101.7905</span>
<span class="t" style="right:776.9px;top:314.94px;font-size:12px;line-height:12px;color:#2b3042;letter-spacing:0.18px;">100.9171</span>
<span class="t" style="right:776.9px;top:371.94px;font-size:12px;line-height:12px;color:#2b3042;letter-spacing:0.18px;">100.0436</span>
<span class="t" style="right:776.9px;top:428.94px;font-size:12px;line-height:12px;color:#2b3042;letter-spacing:0.18px;">99.1701</span>
<span class="t" style="right:776.9px;top:484.94px;font-size:12px;line-height:12px;color:#2b3042;letter-spacing:0.18px;">98.2967</span>
<span class="t" style="right:776.9px;top:541.94px;font-size:12px;line-height:12px;color:#2b3042;letter-spacing:0.18px;">97.4232</span>
<span class="t" style="right:776.9px;top:598.94px;font-size:12px;line-height:12px;color:#2b3042;letter-spacing:0.18px;">96.5498</span>
<span class="t" style="right:776.9px;top:677.94px;font-size:12px;line-height:12px;color:#2b3042;letter-spacing:0.18px;">0.5259</span>
<span class="t" style="right:776.9px;top:700.94px;font-size:12px;line-height:12px;color:#2b3042;letter-spacing:0.18px;">0.3955</span>
<span class="t" style="right:776.9px;top:723.94px;font-size:12px;line-height:12px;color:#2b3042;letter-spacing:0.18px;">0.2652</span>
<span class="t" style="right:776.9px;top:747.94px;font-size:12px;line-height:12px;color:#2b3042;letter-spacing:0.18px;">0.1349</span>
<span class="t" style="right:776.9px;top:770.94px;font-size:12px;line-height:12px;color:#2b3042;letter-spacing:0.18px;">0.0046</span>
<span class="t" style="right:776.9px;top:794.94px;font-size:12px;line-height:12px;color:#2b3042;letter-spacing:0.18px;">-0.1257</span>
<span class="t" style="right:776.9px;top:817.94px;font-size:12px;line-height:12px;color:#2b3042;letter-spacing:0.18px;">-0.2561</span>
<span class="t" style="right:776.9px;top:840.94px;font-size:12px;line-height:12px;color:#2b3042;letter-spacing:0.18px;">-0.3864</span>
<span class="t" style="right:776.9px;top:864.94px;font-size:12px;line-height:12px;color:#2b3042;letter-spacing:0.18px;">-0.5167</span>
<span class="t" style="right:776.9px;top:887.94px;font-size:12px;line-height:12px;color:#2b3042;letter-spacing:0.18px;">-0.6470</span>
<span class="t" style="left:549.4px;top:342.84px;font-size:12px;line-height:12px;color:#d9453d;font-weight:bold;letter-spacing:0.15px;">100.3900</span>
<span class="t" style="left:173.3px;top:629.84px;font-size:12px;line-height:12px;color:#6aaa64;font-weight:bold;">96.2109</span>
<span class="t" style="left:733.1px;top:529.84px;font-size:12px;line-height:12px;color:#6aaa64;font-weight:bold;letter-spacing:0.15px;">97.7479</span>
<span class="t" style="left:213.3px;top:20.64px;font-size:12px;line-height:12px;color:#111;letter-spacing:0.165px;">MA1(50,0,200,0)</span>
<span class="t" style="left:310.4px;top:20.64px;font-size:12px;line-height:12px;color:#111;letter-spacing:0.13px;">MA50:99.1463</span>
<span class="t" style="left:400.4px;top:20.64px;font-size:12px;line-height:12px;color:#00008b;letter-spacing:0.21px;">MA0:97.8334</span>
<span class="t" style="left:483.2px;top:20.64px;font-size:12px;line-height:12px;color:#ff00ff;letter-spacing:0.2px;">MA200:99.1088</span>
<span class="t" style="left:579.7px;top:20.64px;font-size:12px;line-height:12px;color:#ff8000;letter-spacing:0.3px;">MA0:97.8334</span>
<span class="t" style="left:85.2px;top:666.64px;font-size:12px;line-height:12px;color:#111;letter-spacing:0.05px;">MACD(13,8,9)</span>
<span class="t" style="left:167.4px;top:666.64px;font-size:12px;line-height:12px;color:#111;letter-spacing:0.09px;">DIFF:-0.1858</span>
<span class="t" style="left:247.2px;top:666.64px;font-size:12px;line-height:12px;color:#00008b;letter-spacing:0.1px;">DEA:-0.1614</span>
<span class="t" style="left:324.8px;top:666.64px;font-size:12px;line-height:12px;color:#ff00ff;letter-spacing:0.3px;">MACD:-0.0489</span>
<span class="t" style="left:250.3px;top:920.84px;font-size:12px;line-height:12px;color:#1c2030;font-weight:bold;">2025/10</span>
<span class="t" style="left:434.3px;top:920.84px;font-size:12px;line-height:12px;color:#1c2030;font-weight:bold;">2025/11</span>
<span class="t" style="left:594.3px;top:920.84px;font-size:12px;line-height:12px;color:#1c2030;font-weight:bold;">2025/12</span>
<span class="t" style="left:101px;top:942.34px;font-size:10px;line-height:10px;color:#ff7a14;font-family:'Liberation Mono',monospace;transform:scaleY(1.18);transform-origin:0 76.65%;">VIP</span>
<span class="t" style="left:158.2px;top:942.34px;font-size:10px;line-height:10px;color:#1a2030;font-family:'Liberation Mono',monospace;transform:scaleY(1.18);transform-origin:0 76.65%;">MA</span>
<span class="t" style="left:186.2px;top:942.34px;font-size:10px;line-height:10px;color:#1a2030;font-family:'Liberation Mono',monospace;transform:scaleY(1.18);transform-origin:0 76.65%;">MACD</span>
<span class="t" style="left:226.2px;top:942.34px;font-size:10px;line-height:10px;color:#1a2030;font-family:'Liberation Mono',monospace;transform:scaleY(1.18);transform-origin:0 76.65%;">BOLL</span>
<span class="t" style="left:266.2px;top:942.34px;font-size:10px;line-height:10px;color:#1a2030;font-family:'Liberation Mono',monospace;transform:scaleY(1.18);transform-origin:0 76.65%;">VOL</span>
<span class="t" style="left:300.2px;top:942.34px;font-size:10px;line-height:10px;color:#1a2030;font-family:'Liberation Mono',monospace;transform:scaleY(1.18);transform-origin:0 76.65%;">BIAS</span>
<span class="t" style="left:340.2px;top:942.34px;font-size:10px;line-height:10px;color:#1a2030;font-family:'Liberation Mono',monospace;transform:scaleY(1.18);transform-origin:0 76.65%;">CCI</span>
<span class="t" style="left:374.2px;top:942.34px;font-size:10px;line-height:10px;color:#1a2030;font-family:'Liberation Mono',monospace;transform:scaleY(1.18);transform-origin:0 76.65%;">KDJ</span>
<span class="t" style="left:408.2px;top:942.34px;font-size:10px;line-height:10px;color:#1a2030;font-family:'Liberation Mono',monospace;transform:scaleY(1.18);transform-origin:0 76.65%;">LW&amp;</span>
<span class="t" style="left:448.2px;top:942.34px;font-size:10px;line-height:10px;color:#1a2030;font-family:'Liberation Mono',monospace;transform:scaleY(1.18);transform-origin:0 76.65%;">RSI</span>
<span class="t" style="left:482.2px;top:942.34px;font-size:10px;line-height:10px;color:#1a2030;font-family:'Liberation Mono',monospace;transform:scaleY(1.18);transform-origin:0 76.65%;">CR</span>
<span class="t" style="left:511.2px;top:942.34px;font-size:10px;line-height:10px;color:#1a2030;font-family:'Liberation Mono',monospace;transform:scaleY(1.18);transform-origin:0 76.65%;">PSY</span>
<span class="t" style="left:727px;top:915.80px;font-size:29.3px;line-height:29.3px;color:#dbe7f5;letter-spacing:3.75px;text-shadow:1px 1px 1px rgba(160,110,70,.6);">FX678</span>
<span class="t" style="left:-2.2px;top:73.99px;font-size:11px;line-height:11px;color:#fff;font-family:'Liberation Serif',monospace;">K</span>
<span class="t" style="left:305.3px;top:-6.09px;font-size:17px;line-height:17px;color:#363b47;">tick</span>
<span class="t" style="left:356px;top:-2.70px;font-size:13px;line-height:13px;color:#363b47;">5</span>
<span class="t" style="left:400.3px;top:-2.70px;font-size:13px;line-height:13px;color:#363b47;">5</span>
<span class="t" style="left:425.5px;top:-2.70px;font-size:13px;line-height:13px;color:#363b47;">15</span>
<span class="t" style="left:452.3px;top:-2.70px;font-size:13px;line-height:13px;color:#363b47;">30</span>
<span class="t" style="left:479.8px;top:-2.70px;font-size:13px;line-height:13px;color:#363b47;">60</span>
<span class="t" style="left:507.5px;top:-2.70px;font-size:13px;line-height:13px;color:#363b47;">2H</span>
<span class="t" style="left:535px;top:-2.70px;font-size:13px;line-height:13px;color:#363b47;">4H</span>
</body></html>
